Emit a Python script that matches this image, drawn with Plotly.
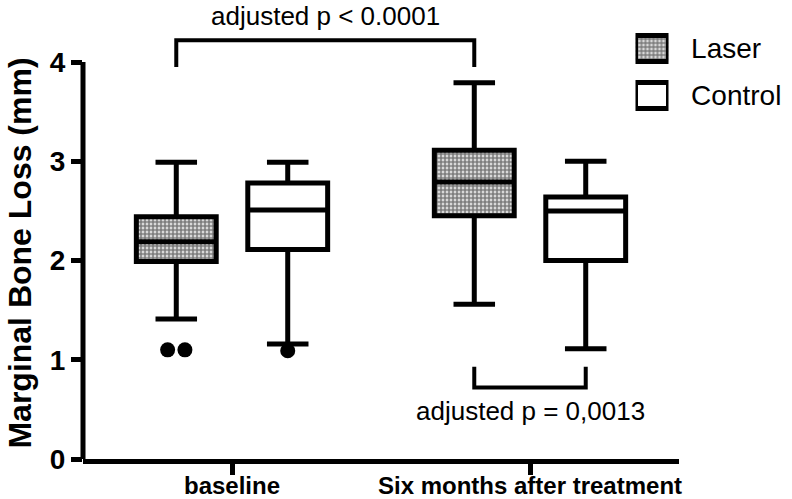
import plotly.graph_objects as go

# ---------------- data ----------------
CATEGORIES = ["baseline", "Six months after treatment"]
SERIES = ["Laser", "Control"]

LASER_UPPER = [2.99, 3.79]
LASER_Q3 = [2.44, 3.11]
LASER_MEDIAN = [2.19, 2.79]
LASER_Q1 = [1.99, 2.45]
LASER_LOWER = [1.41, 1.56]
LASER_OUTLIERS = [[1.10, 1.10], []]

CONTROL_UPPER = [2.99, 3.00]
CONTROL_Q3 = [2.78, 2.64]
CONTROL_MEDIAN = [2.51, 2.50]
CONTROL_Q1 = [2.11, 2.00]
CONTROL_LOWER = [1.16, 1.11]
CONTROL_OUTLIERS = [[1.09], []]

Y_TICKS = [0, 1, 2, 3, 4]
Y_TITLE = "Marginal Bone Loss (mm)"

# comparisons: (series_a, cat_a, series_b, cat_b, label)
COMPARISONS = [
    (0, 0, 0, 1, "adjusted p < 0.0001"),
    (0, 1, 1, 1, "adjusted p = 0,0013"),
]

# ---------------- layout constants ----------------
FONT = "Arial, Liberation Sans, sans-serif"
GROUP_OFFSET = 0.187
BOX_WIDTH = 0.268
DUP_SPREAD = 0.029
Y_TOP = 4.625
BRACKET_STYLE = [  # (bar level, end level, text level)
    (4.22, 3.95, 4.46),
    (0.72, 0.93, 0.485),
]

stats = {
    0: dict(upper=LASER_UPPER, q3=LASER_Q3, med=LASER_MEDIAN, q1=LASER_Q1,
            lower=LASER_LOWER, out=LASER_OUTLIERS),
    1: dict(upper=CONTROL_UPPER, q3=CONTROL_Q3, med=CONTROL_MEDIAN, q1=CONTROL_Q1,
            lower=CONTROL_LOWER, out=CONTROL_OUTLIERS),
}


def pos(series, cat):
    return cat + (-GROUP_OFFSET if series == 0 else GROUP_OFFSET)


PATTERN = dict(shape=".", fgcolor="black", bgcolor="white", size=4, solidity=0.75)

fig = go.Figure()

# patterned fill of the Laser boxes (from Q1 to Q3)
cats = list(range(len(CATEGORIES)))
fig.add_trace(go.Bar(
    x=[pos(0, c) for c in cats],
    base=LASER_Q1,
    y=[q3 - q1 for q3, q1 in zip(LASER_Q3, LASER_Q1)],
    width=BOX_WIDTH,
    marker=dict(color="white", pattern=PATTERN, line=dict(width=0)),
    showlegend=False, hoverinfo="skip",
))

for s in (0, 1):
    st = stats[s]
    fig.add_trace(go.Box(
        name=SERIES[s],
        x=[pos(s, c) for c in cats],
        q1=st["q1"], median=st["med"], q3=st["q3"],
        lowerfence=st["lower"], upperfence=st["upper"],
        width=BOX_WIDTH, whiskerwidth=0.52,
        fillcolor="rgba(0,0,0,0)" if s == 0 else "white",
        line=dict(color="black", width=5),
        boxpoints=False, showlegend=False,
    ))

# outlier dots
for s in (0, 1):
    xs, ys = [], []
    for c, vals in enumerate(stats[s]["out"]):
        n = len(vals)
        for k, v in enumerate(vals):
            shift = (k - (n - 1) / 2) * 2 * DUP_SPREAD if n > 1 else 0
            xs.append(pos(s, c) + shift)
            ys.append(v)
    fig.add_trace(go.Scatter(x=xs, y=ys, mode="markers",
                             marker=dict(color="black", size=15),
                             showlegend=False, hoverinfo="skip"))

# significance brackets
for (sa, ca, sb, cb, label), (bar, end, ty) in zip(COMPARISONS, BRACKET_STYLE):
    xa, xb = pos(sa, ca), pos(sb, cb)
    fig.add_trace(go.Scatter(x=[xa, xa, xb, xb], y=[end, bar, bar, end],
                             mode="lines", line=dict(color="black", width=4),
                             showlegend=False, hoverinfo="skip"))
    fig.add_annotation(x=(xa + xb) / 2 if ca == 0 else cb, y=ty, text=label,
                       showarrow=False, xref="x", yref="y",
                       font=dict(family=FONT, size=26, color="black"))

# custom legend (mini subplot)
for s in (0, 1):
    fig.add_trace(go.Bar(
        y=[SERIES[s]], x=[1], orientation="h", width=0.55,
        marker=dict(color="white", pattern=PATTERN if s == 0 else None,
                    line=dict(color="black", width=5)),
        xaxis="x2", yaxis="y2", showlegend=False, hoverinfo="skip",
    ))

# y-axis line from 0 to 4
fig.add_shape(type="line", xref="paper", yref="y", x0=0, x1=0,
              y0=Y_TICKS[0], y1=Y_TICKS[-1], line=dict(color="black", width=5))

# y-axis title, centred on the 0..4 axis span
fig.add_annotation(text=Y_TITLE, textangle=-90, showarrow=False,
                   xref="paper", x=0, xanchor="center", xshift=-63,
                   yref="y", y=(Y_TICKS[0] + Y_TICKS[-1]) / 2 + 0.07, yanchor="middle",
                   font=dict(family=FONT, size=32, color="black", weight="bold"))

fig.update_layout(
    width=792, height=499,
    margin=dict(l=83, r=113, t=0, b=40),
    paper_bgcolor="white", plot_bgcolor="white",
    barmode="overlay",
    showlegend=False,
    font=dict(family=FONT, color="black"),
    xaxis=dict(
        range=[-0.5, len(CATEGORIES) - 0.5],
        tickvals=cats, ticktext=CATEGORIES,
        tickfont=dict(family=FONT, size=24, color="black", weight="bold"),
        ticks="outside", ticklen=11, tickwidth=5, tickcolor="black",
        ticklabelstandoff=-10,
        showline=True, linewidth=5, linecolor="black",
        showgrid=False, zeroline=False, automargin=False,
    ),
    yaxis=dict(
        range=[0, Y_TOP],
        tickvals=Y_TICKS,
        tickfont=dict(family=FONT, size=28, color="black", weight="bold"),
        ticks="outside", ticklen=11, tickwidth=5, tickcolor="black",
        showline=False, showgrid=False, zeroline=False, automargin=False,
    ),
    xaxis2=dict(domain=[0.927, 0.9824], anchor="y2", range=[0, 1], visible=False),
    yaxis2=dict(domain=[0.7407, 0.9455], anchor="x2", type="category",
                categoryorder="array", categoryarray=SERIES, autorange="reversed",
                side="right", ticks="outside", ticklen=16, tickcolor="rgba(0,0,0,0)",
                tickfont=dict(family=FONT, size=28, color="black"),
                showline=False, showgrid=False, zeroline=False),
)

fig.write_html("out.html", config={"displayModeBar": False},
               post_script="document.body.style.margin='0';")
